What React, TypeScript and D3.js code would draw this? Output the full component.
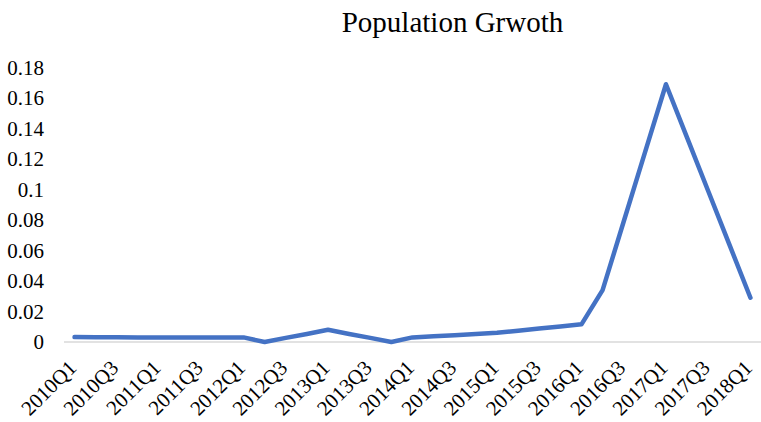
import React from 'react';
import * as d3 from 'd3';

// quarters shown on the axis (every other one gets a label)
const quarters = [
  '2010Q1', '2010Q2', '2010Q3', '2010Q4',
  '2011Q1', '2011Q2', '2011Q3', '2011Q4',
  '2012Q1', '2012Q2', '2012Q3', '2012Q4',
  '2013Q1', '2013Q2', '2013Q3', '2013Q4',
  '2014Q1', '2014Q2', '2014Q3', '2014Q4',
  '2015Q1', '2015Q2', '2015Q3', '2015Q4',
  '2016Q1', '2016Q2', '2016Q3', '2016Q4',
  '2017Q1', '2017Q2', '2017Q3', '2017Q4',
  '2018Q1',
];

const growth = [
  0.0032, 0.0031, 0.0031, 0.003,
  0.003, 0.003, 0.003, 0.003,
  0.003, 0.0, 0.0027, 0.0053,
  0.008, 0.0053, 0.0027, 0.0,
  0.003, 0.0037, 0.0045, 0.0052,
  0.006, 0.0074, 0.0088, 0.0102,
  0.0116, 0.034, 0.079, 0.124,
  0.169, 0.134, 0.099, 0.064,
  0.029,
];

const yTicks = [0, 0.02, 0.04, 0.06, 0.08, 0.1, 0.12, 0.14, 0.16, 0.18];

const title = 'Population Grwoth';

export default function App() {
  const width = 761;
  const height = 422;
  const left = 64;
  const right = 761;
  const top = 67.5;
  const bottom = 342;

  const x = d3.scaleBand<string>().domain(quarters).range([left, right]);
  const y = d3.scaleLinear().domain([0, 0.18]).range([bottom, top]);
  const cx = (q: string) => (x(q) as number) + x.bandwidth() / 2;

  const line = d3.line<number>()
    .x((d, i) => cx(quarters[i]))
    .y(d => y(d));

  const font = '"Liberation Serif", "Times New Roman", serif';

  return (
    <svg width={width} height={height}
      style={{ position: 'absolute', left: 0, top: 0, background: '#fff' }}>
      <text x={452.5} y={32} textAnchor="middle" fontFamily={font} fontSize={29} fill="#000">
        {title}
      </text>

      {/* y labels */}
      {yTicks.map(t => (
        <text key={t} x={44} y={y(t)} dy="0.35em" textAnchor="end"
          fontFamily={font} fontSize={21} fill="#000">
          {String(t)}
        </text>
      ))}

      {/* base line */}
      <line x1={left} x2={right} y1={y(0)} y2={y(0)} stroke="#d9d9d9" strokeWidth={1.5} />

      {/* x labels */}
      {quarters.filter((q, i) => i % 2 === 0).map(q => (
        <text key={q} transform={`translate(${cx(q) + 3},${369}) rotate(-45)`}
          textAnchor="end" fontFamily={font} fontSize={21} fill="#000">
          {q}
        </text>
      ))}

      <path d={line(growth) || ''} fill="none" stroke="#4472C4" strokeWidth={4.5}
        strokeLinejoin="round" strokeLinecap="round" />
    </svg>
  );
}
